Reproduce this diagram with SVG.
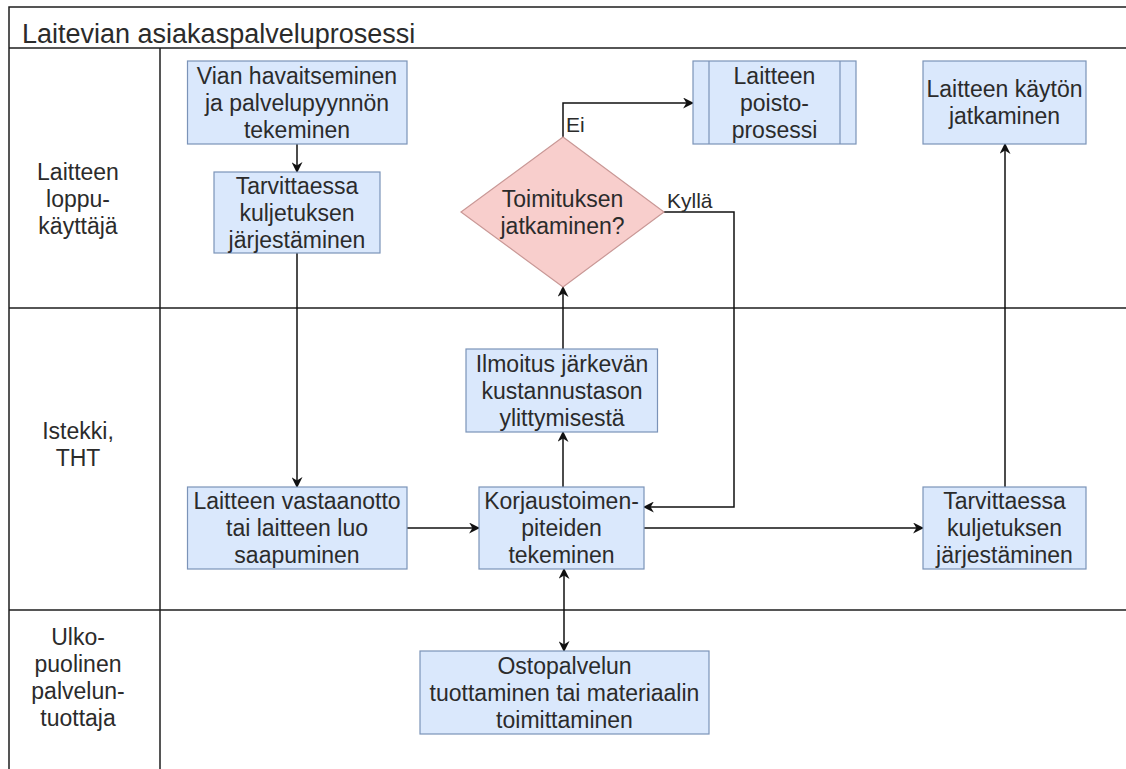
<svg xmlns="http://www.w3.org/2000/svg" width="1126" height="769" viewBox="0 0 1126 769">
  <style>
    text { font-family: "Liberation Sans", Arial, sans-serif; fill: #2b2b2b; }
    .t { font-size: 23px; text-anchor: middle; }
    .lbl { font-size: 21px; }
    .title { font-size: 27px; }
    .frame { fill: none; stroke: #1e1e1e; stroke-width: 1.5; }
    .box { fill: #dae8fc; stroke: #7b93b8; stroke-width: 1.2; }
    .dec { fill: #f8cecc; stroke: #c99896; stroke-width: 1.2; }
    .edge { fill: none; stroke: #111; stroke-width: 1.5; }
  </style>
  <defs>
    <marker id="arr" viewBox="0 0 10 10" refX="9" refY="5" markerWidth="11" markerHeight="11" markerUnits="userSpaceOnUse" orient="auto-start-reverse">
      <path d="M0,0 L10,5 L0,10 L3,5 Z" fill="#111"/>
    </marker>
  </defs>
  <rect width="1126" height="769" fill="#ffffff"/>

  <!-- swimlane pool -->
  <g id="pool">
    <path class="frame" d="M9,769 V7 H1126"/>
    <line class="frame" x1="9" y1="48" x2="1126" y2="48"/>
    <line class="frame" x1="160" y1="48" x2="160" y2="769"/>
    <line class="frame" x1="9" y1="308" x2="1126" y2="308"/>
    <line class="frame" x1="9" y1="610" x2="1126" y2="610"/>
    <text class="title" x="22" y="43">Laitevian asiakaspalveluprosessi</text>
  </g>

  <g id="lane-loppukayttaja">
    <text class="t" x="78" y="180">Laitteen</text>
    <text class="t" x="78" y="207">loppu-</text>
    <text class="t" x="78" y="234">käyttäjä</text>
  </g>
  <g id="lane-istekki">
    <text class="t" x="78" y="439">Istekki,</text>
    <text class="t" x="78" y="466">THT</text>
  </g>
  <g id="lane-ulkopuolinen">
    <text class="t" x="78" y="645">Ulko-</text>
    <text class="t" x="78" y="672">puolinen</text>
    <text class="t" x="78" y="699">palvelun-</text>
    <text class="t" x="78" y="726">tuottaja</text>
  </g>

  <!-- connectors -->
  <g id="connectors">
    <line class="edge" x1="297" y1="144" x2="297" y2="172" marker-end="url(#arr)"/>
    <line class="edge" x1="297" y1="253" x2="297" y2="487" marker-end="url(#arr)"/>
    <line class="edge" x1="407" y1="528" x2="479" y2="528" marker-end="url(#arr)"/>
    <line class="edge" x1="563" y1="487" x2="563" y2="432" marker-end="url(#arr)"/>
    <line class="edge" x1="563" y1="349" x2="563" y2="287" marker-end="url(#arr)"/>
    <path class="edge" d="M563,137 V103 H693" marker-end="url(#arr)"/>
    <path class="edge" d="M664,212 H734 V507 H644" marker-end="url(#arr)"/>
    <line class="edge" x1="644" y1="528" x2="923" y2="528" marker-end="url(#arr)"/>
    <line class="edge" x1="1005" y1="487" x2="1005" y2="144" marker-end="url(#arr)"/>
    <line class="edge" x1="564" y1="569" x2="564" y2="651" marker-start="url(#arr)" marker-end="url(#arr)"/>
    <text class="lbl" x="566" y="132">Ei</text>
    <text class="lbl" x="667" y="208">Kyllä</text>
  </g>

  <!-- process nodes -->
  <g id="vian-havaitseminen">
    <rect class="box" x="187.5" y="61" width="219.5" height="83"/>
    <text class="t" x="297" y="83.5">Vian havaitseminen</text>
    <text class="t" x="297" y="110.5">ja palvelupyynnön</text>
    <text class="t" x="297" y="137.5">tekeminen</text>
  </g>
  <g id="kuljetus-1">
    <rect class="box" x="214" y="172" width="166" height="81"/>
    <text class="t" x="297" y="193.5">Tarvittaessa</text>
    <text class="t" x="297" y="220.5">kuljetuksen</text>
    <text class="t" x="297" y="247.5">järjestäminen</text>
  </g>
  <g id="toimituksen-jatkaminen">
    <polygon class="dec" points="563,137 664,212 563,287 461,212"/>
    <text class="t" x="562.5" y="206.5">Toimituksen</text>
    <text class="t" x="562.5" y="233.5">jatkaminen?</text>
  </g>
  <g id="poistoprosessi">
    <rect class="box" x="693" y="61" width="163" height="83"/>
    <line class="box" x1="709" y1="61" x2="709" y2="144"/>
    <line class="box" x1="840" y1="61" x2="840" y2="144"/>
    <text class="t" x="774.5" y="83.5">Laitteen</text>
    <text class="t" x="774.5" y="110.5">poisto-</text>
    <text class="t" x="774.5" y="137.5">prosessi</text>
  </g>
  <g id="kayton-jatkaminen">
    <rect class="box" x="923" y="61" width="163" height="83"/>
    <text class="t" x="1004.5" y="97">Laitteen käytön</text>
    <text class="t" x="1004.5" y="124">jatkaminen</text>
  </g>
  <g id="ilmoitus">
    <rect class="box" x="466" y="349" width="191.5" height="83"/>
    <text class="t" x="562" y="371.5">Ilmoitus järkevän</text>
    <text class="t" x="562" y="398.5">kustannustason</text>
    <text class="t" x="562" y="425.5">ylittymisestä</text>
  </g>
  <g id="vastaanotto">
    <rect class="box" x="187.5" y="487" width="219.5" height="82"/>
    <text class="t" x="297" y="509">Laitteen vastaanotto</text>
    <text class="t" x="297" y="536">tai laitteen luo</text>
    <text class="t" x="297" y="563">saapuminen</text>
  </g>
  <g id="korjaustoimenpiteet">
    <rect class="box" x="479" y="487" width="165" height="82"/>
    <text class="t" x="561.5" y="509">Korjaustoimen-</text>
    <text class="t" x="561.5" y="536">piteiden</text>
    <text class="t" x="561.5" y="563">tekeminen</text>
  </g>
  <g id="kuljetus-2">
    <rect class="box" x="923" y="487" width="163" height="82"/>
    <text class="t" x="1004.5" y="509">Tarvittaessa</text>
    <text class="t" x="1004.5" y="536">kuljetuksen</text>
    <text class="t" x="1004.5" y="563">järjestäminen</text>
  </g>
  <g id="ostopalvelu">
    <rect class="box" x="420" y="651" width="289" height="83"/>
    <text class="t" x="564.5" y="673.5">Ostopalvelun</text>
    <text class="t" x="564.5" y="700.5">tuottaminen tai materiaalin</text>
    <text class="t" x="564.5" y="727.5">toimittaminen</text>
  </g>
</svg>
